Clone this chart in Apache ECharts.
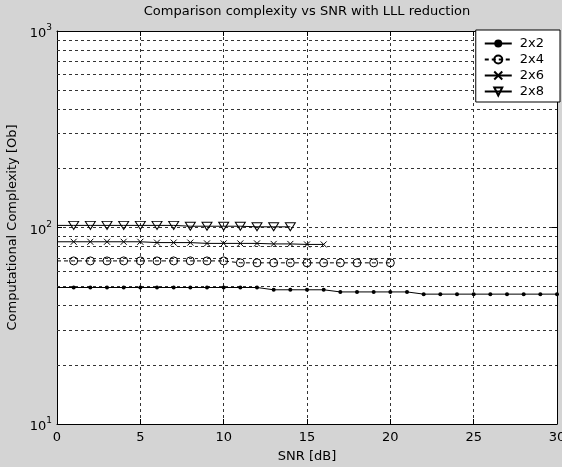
<!DOCTYPE html>
<html><head><meta charset="utf-8">
<script src="https://cdn.jsdelivr.net/npm/echarts@6/dist/echarts.min.js"></script>
<style>html,body{margin:0;padding:0;background:#d4d4d4}#c{width:562px;height:467px}</style>
</head><body><div id="c"></div><script>
// ---- data ----
const snr2x2 = [0,1,2,3,4,5,6,7,8,9,10,11,12,13,14,15,16,17,18,19,20,21,22,23,24,25,26,27,28,29,30];
const cx2x2  = [49.5,49.5,49.5,49.5,49.5,49.5,49.5,49.5,49.5,49.5,49.5,49.5,49.5,48.2,48.2,48.2,48.2,47,47,47,47,47,45.8,45.8,45.8,45.8,45.8,45.8,45.8,45.8,45.8];
const snr2x4 = [0,1,2,3,4,5,6,7,8,9,10,11,12,13,14,15,16,17,18,19,20];
const cx2x4  = [67.6,67.6,67.6,67.6,67.6,67.6,67.6,67.6,67.6,67.6,67.6,66.1,66.1,66.1,66.1,66.1,66.1,66.1,66.1,66.1,66.1];
const snr2x6 = [0,1,2,3,4,5,6,7,8,9,10,11,12,13,14,15,16];
const cx2x6  = [84.6,84.6,84.6,84.6,84.6,84.6,83.8,83.8,83.8,83,83,83,83,82.5,82.5,82,82];
const snr2x8 = [0,1,2,3,4,5,6,7,8,9,10,11,12,13,14];
const cx2x8  = [102.5,102.5,102.5,102.5,102.5,102.5,102.5,102.5,101.5,101.5,101.5,101.5,100.8,100.8,100.8];
const seriesNames = ['2x2','2x4','2x6','2x8'];
const xTicks = [0,5,10,15,20,25,30];
const minorGridValues = [20,30,40,50,60,70,80,90,200,300,400,500,600,700,800,900];
const titleText = 'Comparison complexity vs SNR with LLL reduction';
const xLabel = 'SNR [dB]';
const yLabel = 'Computational Complexity [Ob]';

function pts(xs, ys){ return xs.map((x,i)=> i===0 ? {value:[x,ys[i]], symbol:'none'} : [x,ys[i]]); }

const FONT = 'DejaVu Sans';
const chart = echarts.init(document.getElementById('c'), null, {renderer:'canvas'});
const lineBase = {type:'line', animation:false, silent:true, lineStyle:{color:'#000', width:1}, z:3};
chart.setOption({
  backgroundColor:'#d4d4d4',
  textStyle:{fontFamily:FONT},
  graphic:[{type:'text', x:307, y:12, style:{text:titleText, x:0, y:0, textAlign:'center', textVerticalAlign:'middle', font:'13px "DejaVu Sans"', fill:'#000'}}],
  grid:{left:57, right:5, top:31, bottom:43, show:true, backgroundColor:'#fff', borderWidth:0, containLabel:false, outerBoundsMode:'none'},
  legend:{
    data:seriesNames, orient:'vertical', right:2, top:30,
    backgroundColor:'#fff', borderColor:'#000', borderWidth:1, borderRadius:0,
    padding:[7,16,4,8], itemWidth:27, itemHeight:10, itemGap:3,
    textStyle:{fontSize:13, color:'#000', fontFamily:FONT, padding:[0,0,0,3]}
  },
  xAxis:[{
    type:'value', min:0, max:30, interval:5, position:'bottom',
    name:xLabel, nameLocation:'middle', nameGap:26, nameTextStyle:{fontSize:13, color:'#000', fontFamily:FONT},
    axisLine:{show:true, onZero:false, lineStyle:{color:'#000', width:1}},
    axisTick:{show:true, inside:true, length:5, lineStyle:{color:'#000'}},
    axisLabel:{color:'#000', fontSize:13, margin:7, fontFamily:FONT,
      customValues:xTicks, showMaxLabel:true, showMinLabel:true},
    splitLine:{show:true, lineStyle:{color:'#333', type:[3,3], width:1}}
  },{
    type:'value', min:0, max:30, interval:5, position:'top',
    axisLine:{show:true, onZero:false, lineStyle:{color:'#000', width:1}},
    axisTick:{show:true, inside:true, length:5, lineStyle:{color:'#000'}},
    axisLabel:{show:false}, splitLine:{show:false}
  }],
  yAxis:[{
    type:'log', logBase:10, min:10, max:1000, position:'left',
    name:yLabel, nameLocation:'middle', nameGap:38, nameTextStyle:{fontSize:13, color:'#000', fontFamily:FONT},
    axisLine:{show:true, onZero:false, lineStyle:{color:'#000', width:1}},
    axisTick:{show:true, inside:true, length:5, lineStyle:{color:'#000'}},
    axisLabel:{color:'#000', margin:5,
      formatter:(v)=>'{b|10}{s|'+Math.round(Math.log10(v))+'}',
      rich:{b:{fontSize:13, fontFamily:FONT, color:'#000', padding:[6,0,0,0]}, s:{fontSize:9, fontFamily:FONT, color:'#000', padding:[0,0,6,0]}}},
    splitLine:{show:true, lineStyle:{color:'#333', type:[3,3], width:1}}
  },{
    type:'log', logBase:10, min:10, max:1000, position:'right',
    axisLine:{show:true, onZero:false, lineStyle:{color:'#000', width:1}},
    axisTick:{show:true, inside:true, length:5, lineStyle:{color:'#000'}},
    axisLabel:{show:false}, splitLine:{show:false}
  }],
  series:[
    Object.assign({}, lineBase, {name:seriesNames[0], data:pts(snr2x2,cx2x2), symbol:'circle', symbolSize:4,
      itemStyle:{color:'#000'},
      markLine:{silent:true, animation:false, symbol:['none','none'], label:{show:false}, z:1,
        lineStyle:{color:'#333', type:[3,3], width:1}, emphasis:{disabled:true},
        data:minorGridValues.map(v=>({yAxis:v}))}}),
    Object.assign({}, lineBase, {name:seriesNames[1], data:pts(snr2x4,cx2x4), symbol:'circle', symbolSize:8,
      lineStyle:{color:'#000', width:1, type:[4,3]},
      itemStyle:{color:'rgba(255,255,255,0)', borderColor:'#000', borderWidth:1}}),
    Object.assign({}, lineBase, {name:seriesNames[2], data:pts(snr2x6,cx2x6), symbol:'path://M0,0L10,10M0,10L10,0', symbolSize:6,
      itemStyle:{color:'#000', borderColor:'#000', borderWidth:1}}),
    Object.assign({}, lineBase, {name:seriesNames[3], data:pts(snr2x8,cx2x8), symbol:'triangle', symbolRotate:180, symbolSize:[10,8],
      itemStyle:{color:'rgba(255,255,255,0)', borderColor:'#000', borderWidth:1}})
  ]
});
</script></body></html>
